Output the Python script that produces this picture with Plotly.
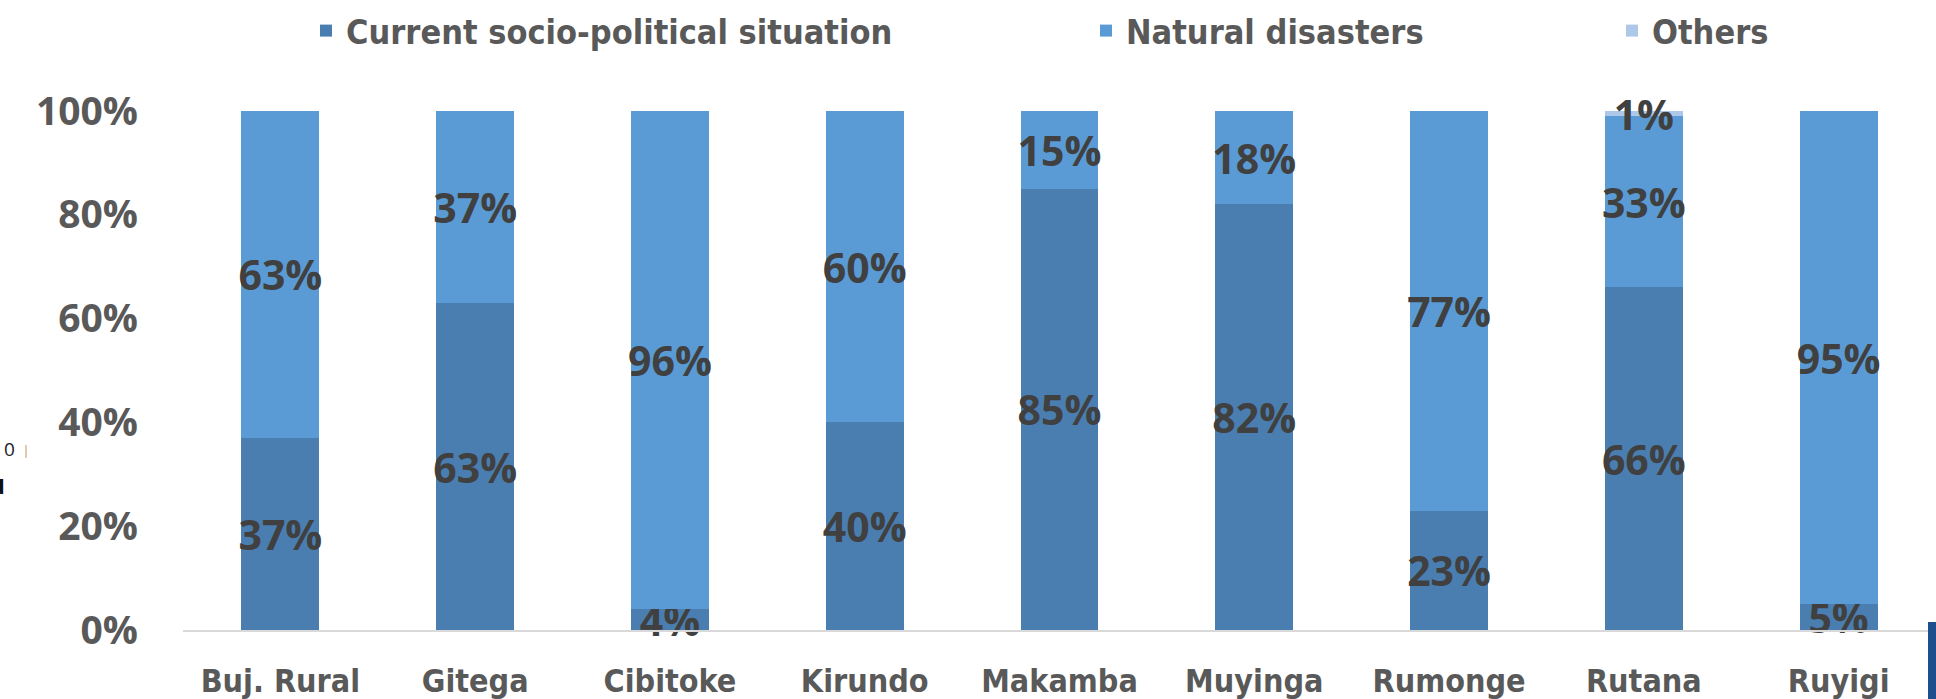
import plotly.graph_objects as go

categories = ["Buj. Rural", "Gitega", "Cibitoke", "Kirundo", "Makamba",
              "Muyinga", "Rumonge", "Rutana", "Ruyigi"]
socio_political = [37, 63, 4, 40, 85, 82, 23, 66, 5]
natural_disasters = [63, 37, 96, 60, 15, 18, 77, 33, 95]
others = [0, 0, 0, 0, 0, 0, 0, 1, 0]
series_names = ["Current socio-political situation", "Natural disasters", "Others"]
y_ticks = [0, 20, 40, 60, 80, 100]

colors = ["#4A7EB0", "#5B9BD5", "#ADC8E8"]
W, H = 1936, 699
L, R, T, B = 183, 0, 111, 69
PW, PH = W - L - R, H - T - B

label_font = dict(family="Open Sans", size=41, color="#404040", weight="bold")
legend_font = dict(family="DejaVu Sans Condensed", size=34, color="#595959", weight="bold")

fig = go.Figure()
for i, (name, vals) in enumerate(zip(series_names, [socio_political, natural_disasters, others])):
    fig.add_trace(go.Bar(
        x=categories, y=vals, name=name,
        marker=dict(color=colors[i], line=dict(width=0)),
        text=[f"{v}%" if v > 0 else "" for v in vals],
        textposition="inside", insidetextanchor="middle",
        textangle=0, constraintext="none", cliponaxis=False,
        insidetextfont=label_font, textfont=label_font,
        legend=["legend", "legend2", "legend3"][i],
    ))

def leg(xpx):
    return dict(orientation="h", xref="container", yref="container",
                x=xpx / W, y=1 - 31 / H, xanchor="left", yanchor="middle",
                font=legend_font, bgcolor="rgba(0,0,0,0)", borderwidth=0)

fig.update_layout(
    width=W, height=H,
    margin=dict(l=L, r=R, t=T, b=B, pad=0, autoexpand=False),
    barmode="stack", bargap=0.6,
    plot_bgcolor="white", paper_bgcolor="white",
    showlegend=True,
    legend=leg(306), legend2=leg(1086), legend3=leg(1612),
    xaxis=dict(showline=True, linecolor="#D9D9D9", linewidth=2, ticks="",
               showgrid=False, zeroline=False, automargin=False,
               tickfont=dict(family="DejaVu Sans Condensed", size=32, color="#595959", weight="bold"),
               ticklabelstandoff=22),
    yaxis=dict(range=[0, 100], tickmode="array", tickvals=y_ticks,
               ticktext=[f"{v}%" for v in y_ticks],
               showline=False, showgrid=False, zeroline=False, ticks="", automargin=False,
               tickfont=dict(family="Open Sans", size=39, color="#595959", weight="bold"),
               ticklabelstandoff=44),
)

# stray fragments visible at the left/right edges of the original screenshot
fig.add_annotation(xref="paper", yref="paper", x=-(L - 9) / PW, y=(630 - 449) / PH,
                   xanchor="center", yanchor="middle",
                   text="0", showarrow=False, font=dict(family="Open Sans", size=19, color="#1A1A2A"))
fig.add_annotation(xref="paper", yref="paper", x=-(L + 4) / PW, y=(630 - 484) / PH,
                   xanchor="center", yanchor="middle",
                   text="u", showarrow=False, font=dict(family="Open Sans", size=26, color="#111111", weight="bold"))
fig.add_shape(type="line", xref="paper", yref="paper",
              x0=-(L - 26) / PW, x1=-(L - 26) / PW,
              y0=(630 - 445) / PH, y1=(630 - 458) / PH,
              line=dict(color="#D8B890", width=1.5))
fig.add_shape(type="rect", xref="paper", yref="paper",
              x0=(1928 - L) / PW, x1=1.01,
              y0=(630 - 622) / PH, y1=(630 - 705) / PH,
              fillcolor="#1F4E8C", line=dict(width=0))

fig.write_html("out.html", config={"displayModeBar": False},
               post_script="document.body.style.margin='0';document.body.style.overflow='hidden';")
